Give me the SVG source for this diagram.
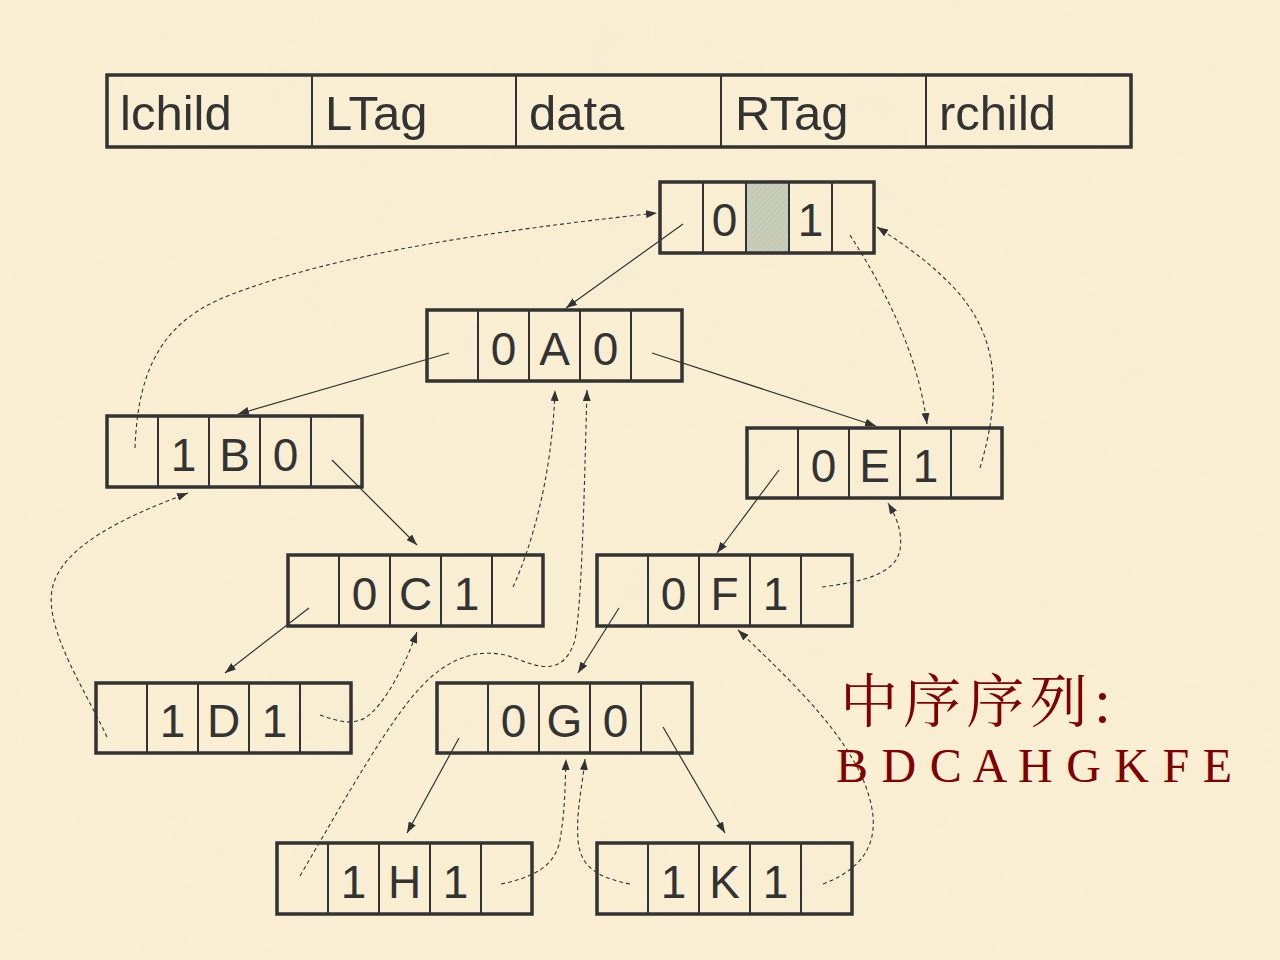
<svg xmlns="http://www.w3.org/2000/svg" width="1280" height="960" viewBox="0 0 1280 960">
<style>
.box{fill:none;stroke:#333;stroke-width:3.5}
.div{stroke:#333;stroke-width:2}
.t{font-family:"Liberation Sans",Arial,sans-serif;font-size:46px;fill:#333;text-anchor:middle}
.h{font-family:"Liberation Sans",Arial,sans-serif;font-size:49px;fill:#333}
.sl{fill:none;stroke:#333;stroke-width:1.2}
.dl{fill:none;stroke:#333;stroke-width:1.1;stroke-dasharray:4 3}
</style>
<defs>
<marker id="ah" viewBox="0 0 11 8" refX="11" refY="4" markerWidth="11" markerHeight="8" markerUnits="userSpaceOnUse" orient="auto">
<path d="M0,0 L11,4 L0,8 z" fill="#333"/>
</marker>
<pattern id="hatch" width="4" height="4" patternUnits="userSpaceOnUse" patternTransform="rotate(45)">
<rect width="4" height="4" fill="#C9CEBA"/>
<line x1="0" y1="0" x2="0" y2="4" stroke="#B7BDA6" stroke-width="1.2"/>
</pattern>
<filter id="paper" x="0" y="0" width="100%" height="100%">
<feTurbulence type="fractalNoise" baseFrequency="0.012" numOctaves="4" seed="7"/>
<feColorMatrix type="matrix" values="0 0 0 0 0.88  0 0 0 0 0.80  0 0 0 0 0.62  1.6 0 0 0 -0.68"/>
</filter>
</defs>
<rect width="1280" height="960" fill="#FAEFD3"/>
<rect width="1280" height="960" filter="url(#paper)" opacity="0.4"/>

<g id="header">
<rect class="box" x="107" y="75" width="1024" height="72" stroke-width="3"/>
<line class="div" x1="312" y1="75" x2="312" y2="147"/>
<line class="div" x1="516" y1="75" x2="516" y2="147"/>
<line class="div" x1="721" y1="75" x2="721" y2="147"/>
<line class="div" x1="926" y1="75" x2="926" y2="147"/>
<text class="h" x="120" y="130">lchild</text>
<text class="h" x="325" y="130">LTag</text>
<text class="h" x="529" y="130">data</text>
<text class="h" x="735" y="130">RTag</text>
<text class="h" x="939" y="130">rchild</text>
</g>

<g id="head">
<rect x="746" y="182" width="43" height="71" fill="url(#hatch)"/>
<rect class="box" x="660" y="182" width="214" height="71"/>
<line class="div" x1="703" y1="182" x2="703" y2="253"/>
<line class="div" x1="746" y1="182" x2="746" y2="253"/>
<line class="div" x1="789" y1="182" x2="789" y2="253"/>
<line class="div" x1="832" y1="182" x2="832" y2="253"/>
<text class="t" x="724.5" y="236">0</text>
<text class="t" x="810.5" y="236">1</text>
</g>

<g id="nodeA" transform="translate(427,310)">
<rect class="box" width="255" height="71"/>
<line class="div" x1="51" y1="0" x2="51" y2="71"/><line class="div" x1="102" y1="0" x2="102" y2="71"/><line class="div" x1="153" y1="0" x2="153" y2="71"/><line class="div" x1="204" y1="0" x2="204" y2="71"/>
<text class="t" x="76.5" y="55">0</text><text class="t" x="127.5" y="55">A</text><text class="t" x="178.5" y="55">0</text>
</g>
<g id="nodeB" transform="translate(107,416)">
<rect class="box" width="255" height="71"/>
<line class="div" x1="51" y1="0" x2="51" y2="71"/><line class="div" x1="102" y1="0" x2="102" y2="71"/><line class="div" x1="153" y1="0" x2="153" y2="71"/><line class="div" x1="204" y1="0" x2="204" y2="71"/>
<text class="t" x="76.5" y="55">1</text><text class="t" x="127.5" y="55">B</text><text class="t" x="178.5" y="55">0</text>
</g>
<g id="nodeE" transform="translate(747,428)">
<rect class="box" width="255" height="70"/>
<line class="div" x1="51" y1="0" x2="51" y2="70"/><line class="div" x1="102" y1="0" x2="102" y2="70"/><line class="div" x1="153" y1="0" x2="153" y2="70"/><line class="div" x1="204" y1="0" x2="204" y2="70"/>
<text class="t" x="76.5" y="54">0</text><text class="t" x="127.5" y="54">E</text><text class="t" x="178.5" y="54">1</text>
</g>
<g id="nodeC" transform="translate(288,555)">
<rect class="box" width="255" height="71"/>
<line class="div" x1="51" y1="0" x2="51" y2="71"/><line class="div" x1="102" y1="0" x2="102" y2="71"/><line class="div" x1="153" y1="0" x2="153" y2="71"/><line class="div" x1="204" y1="0" x2="204" y2="71"/>
<text class="t" x="76.5" y="55">0</text><text class="t" x="127.5" y="55">C</text><text class="t" x="178.5" y="55">1</text>
</g>
<g id="nodeF" transform="translate(597,555)">
<rect class="box" width="255" height="71"/>
<line class="div" x1="51" y1="0" x2="51" y2="71"/><line class="div" x1="102" y1="0" x2="102" y2="71"/><line class="div" x1="153" y1="0" x2="153" y2="71"/><line class="div" x1="204" y1="0" x2="204" y2="71"/>
<text class="t" x="76.5" y="55">0</text><text class="t" x="127.5" y="55">F</text><text class="t" x="178.5" y="55">1</text>
</g>
<g id="nodeD" transform="translate(96,683)">
<rect class="box" width="255" height="70"/>
<line class="div" x1="51" y1="0" x2="51" y2="70"/><line class="div" x1="102" y1="0" x2="102" y2="70"/><line class="div" x1="153" y1="0" x2="153" y2="70"/><line class="div" x1="204" y1="0" x2="204" y2="70"/>
<text class="t" x="76.5" y="54">1</text><text class="t" x="127.5" y="54">D</text><text class="t" x="178.5" y="54">1</text>
</g>
<g id="nodeG" transform="translate(437,683)">
<rect class="box" width="255" height="70"/>
<line class="div" x1="51" y1="0" x2="51" y2="70"/><line class="div" x1="102" y1="0" x2="102" y2="70"/><line class="div" x1="153" y1="0" x2="153" y2="70"/><line class="div" x1="204" y1="0" x2="204" y2="70"/>
<text class="t" x="76.5" y="54">0</text><text class="t" x="127.5" y="54">G</text><text class="t" x="178.5" y="54">0</text>
</g>
<g id="nodeH" transform="translate(277,843)">
<rect class="box" width="255" height="71"/>
<line class="div" x1="51" y1="0" x2="51" y2="71"/><line class="div" x1="102" y1="0" x2="102" y2="71"/><line class="div" x1="153" y1="0" x2="153" y2="71"/><line class="div" x1="204" y1="0" x2="204" y2="71"/>
<text class="t" x="76.5" y="55">1</text><text class="t" x="127.5" y="55">H</text><text class="t" x="178.5" y="55">1</text>
</g>
<g id="nodeK" transform="translate(597,843)">
<rect class="box" width="255" height="71"/>
<line class="div" x1="51" y1="0" x2="51" y2="71"/><line class="div" x1="102" y1="0" x2="102" y2="71"/><line class="div" x1="153" y1="0" x2="153" y2="71"/><line class="div" x1="204" y1="0" x2="204" y2="71"/>
<text class="t" x="76.5" y="55">1</text><text class="t" x="127.5" y="55">K</text><text class="t" x="178.5" y="55">1</text>
</g>

<g id="connectors">
<path class="sl" marker-end="url(#ah)" d="M683,224 L566,308"/>
<path class="sl" marker-end="url(#ah)" d="M449,353 L238,414"/>
<path class="sl" marker-end="url(#ah)" d="M652,353 L876,426"/>
<path class="sl" marker-end="url(#ah)" d="M332,460 L417,545"/>
<path class="sl" marker-end="url(#ah)" d="M309,608 L225,673"/>
<path class="sl" marker-end="url(#ah)" d="M779,470 L717,553"/>
<path class="sl" marker-end="url(#ah)" d="M619,608 L578,673"/>
<path class="sl" marker-end="url(#ah)" d="M459,738 L407,833"/>
<path class="sl" marker-end="url(#ah)" d="M663,727 L725,833"/>

<path class="dl" marker-end="url(#ah)" d="M135,448 C138,365 165,320 230,295 C330,256 480,232 657,213"/>
<path class="dl" marker-end="url(#ah)" d="M850,235 C885,290 917,350 927,424"/>
<path class="dl" marker-end="url(#ah)" d="M980,468 C1000,400 1002,340 955,289 C932,264 905,245 877,227"/>
<path class="dl" marker-end="url(#ah)" d="M107,737 C85,690 45,630 52,590 C60,545 130,515 188,493"/>
<path class="dl" marker-end="url(#ah)" d="M320,715 C335,720 350,726 365,718 C385,705 405,665 417,632"/>
<path class="dl" marker-end="url(#ah)" d="M513,587 C530,550 552,480 555,390"/>
<path class="dl" marker-end="url(#ah)" d="M300,876 C350,790 390,720 420,688 C450,655 485,645 520,660 C545,670 565,672 575,640 C582,600 584,500 587,390"/>
<path class="dl" marker-end="url(#ah)" d="M501,884 C530,878 555,868 560,840 C565,810 565,790 566,759"/>
<path class="dl" marker-end="url(#ah)" d="M630,884 C600,878 580,868 578,840 C576,810 582,790 585,759"/>
<path class="dl" marker-end="url(#ah)" d="M823,884 C860,870 882,845 870,800 C855,740 790,680 738,630"/>
<path class="dl" marker-end="url(#ah)" d="M822,587 C860,582 895,575 900,550 C903,530 895,515 888,503"/>
</g>

<g id="caption">
<text x="840" y="722" font-family="'Noto Serif CJK SC','Noto Sans CJK SC',serif" font-size="58" fill="#800000" textLength="272" lengthAdjust="spacing">中序序列:</text>
<text x="836" y="782" font-family="'Liberation Serif','Times New Roman',serif" font-size="48" fill="#800000" textLength="396" lengthAdjust="spacing">B D C A H G K F E</text>
</g>
</svg>
